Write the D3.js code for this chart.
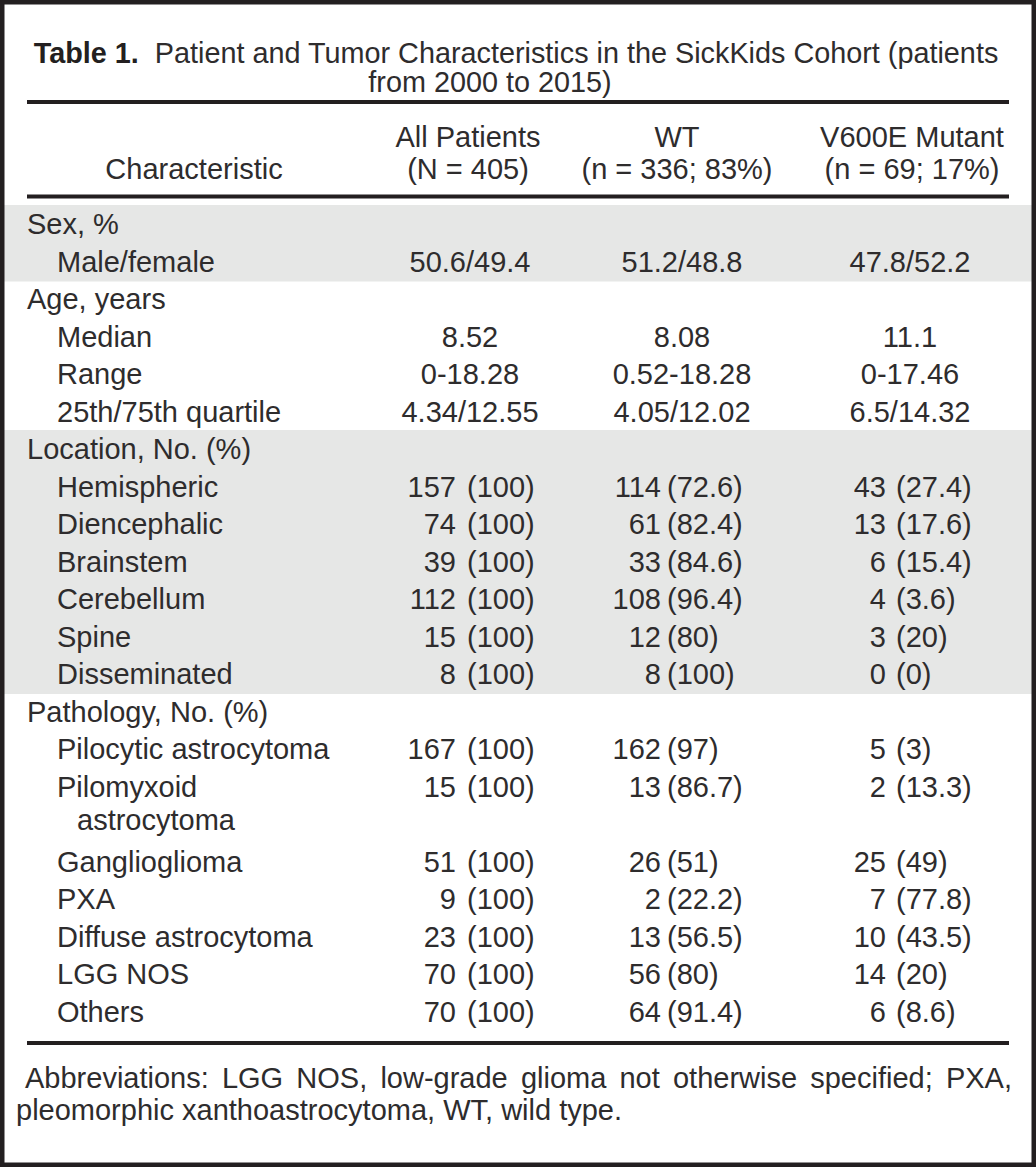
<!DOCTYPE html>
<html>
<head>
<meta charset="utf-8">
<script src="https://cdn.jsdelivr.net/npm/d3@7"></script>
<style>
body { margin: 0; background: #fff; }
svg text { font-family: "Liberation Sans", Arial, sans-serif; fill: #2e2c2d; }
</style>
</head>
<body>
<div id="chart"></div>
<script>
// table content
var titleBold = "Table 1.";
var titleLines = ["Patient and Tumor Characteristics in the SickKids Cohort (patients", "from 2000 to 2015)"];
var stubHeader = "Characteristic";
var columnNames = [["All Patients", "(N = 405)"], ["WT", "(n = 336; 83%)"], ["V600E Mutant", "(n = 69; 17%)"]];
var groups = ["Sex, %", "Age, years", "Location, No. (%)", "Pathology, No. (%)"];
var rowGroup = [0, 1, 1, 1, 2, 2, 2, 2, 2, 2, 3, 3, 3, 3, 3, 3, 3];
var rowLabels = [["Male/female"], ["Median"], ["Range"], ["25th/75th quartile"],
    ["Hemispheric"], ["Diencephalic"], ["Brainstem"], ["Cerebellum"], ["Spine"], ["Disseminated"],
    ["Pilocytic astrocytoma"], ["Pilomyxoid", "astrocytoma"], ["Ganglioglioma"], ["PXA"],
    ["Diffuse astrocytoma"], ["LGG NOS"], ["Others"]];
var allPatients = ["50.6/49.4", "8.52", "0-18.28", "4.34/12.55",
    "157 (100)", "74 (100)", "39 (100)", "112 (100)", "15 (100)", "8 (100)",
    "167 (100)", "15 (100)", "51 (100)", "9 (100)", "23 (100)", "70 (100)", "70 (100)"];
var wildType = ["51.2/48.8", "8.08", "0.52-18.28", "4.05/12.02",
    "114 (72.6)", "61 (82.4)", "33 (84.6)", "108 (96.4)", "12 (80)", "8 (100)",
    "162 (97)", "13 (86.7)", "26 (51)", "2 (22.2)", "13 (56.5)", "56 (80)", "64 (91.4)"];
var mutant = ["47.8/52.2", "11.1", "0-17.46", "6.5/14.32",
    "43 (27.4)", "13 (17.6)", "6 (15.4)", "4 (3.6)", "3 (20)", "0 (0)",
    "5 (3)", "2 (13.3)", "25 (49)", "7 (77.8)", "10 (43.5)", "14 (20)", "6 (8.6)"];
var footnoteLines = ["Abbreviations: LGG NOS, low-grade glioma not otherwise specified; PXA,",
    "pleomorphic xanthoastrocytoma, WT, wild type."];

var width = 1036;
var height = 1167;
var fontSize = 29;

var svg = d3.select('#chart')
    .append('svg')
    .attr('width', width)
    .attr('height', height);

svg.append('rect')
    .attr('width', width)
    .attr('height', height)
    .attr('fill', '#fff');

// one entry per printed line of the body
var bodyLines = [];
var rowStart = [];
groups.forEach(function (g, gi) {
    bodyLines.push({ kind: 'group', group: gi });
    rowGroup.forEach(function (rg, ri) {
        if (rg !== gi) return;
        rowStart[ri] = bodyLines.length;
        rowLabels[ri].forEach(function (t, k) {
            bodyLines.push({ kind: k === 0 ? 'row' : 'cont', group: gi, row: ri });
        });
    });
});

var y = d3.scaleLinear()
    .domain([0, 1])
    .range([234, 271.5]);

var columns = [allPatients, wildType, mutant];
var colCenter = [470, 682, 910];
var numEnd = [456, 661, 886];
var parenStart = [467, 667, 896];
var headCenter = [468, 677, 912];

// grey bands behind every other group
var bands = svg.append('g');
groups.forEach(function (g, gi) {
    if (gi % 2 !== 0) return;
    var idx = bodyLines.map(function (d, i) { return d.group === gi ? i : -1; })
        .filter(function (i) { return i >= 0; });
    var top = y(d3.min(idx)) - 29;
    var bottom = y(d3.max(idx)) + 10;
    bands.append('rect')
        .attr('x', 0)
        .attr('y', top)
        .attr('width', width)
        .attr('height', bottom - top)
        .attr('fill', '#e6e7e6');
});

// title
var title = svg.append('text')
    .attr('x', 516)
    .attr('y', 63)
    .attr('text-anchor', 'middle')
    .attr('font-size', 28.8);
title.append('tspan').attr('font-weight', 'bold').attr('fill', '#231f20').text(titleBold);
title.append('tspan').text('\u00a0 ' + titleLines[0]);

svg.append('text')
    .attr('x', 490)
    .attr('y', 92)
    .attr('text-anchor', 'middle')
    .attr('font-size', 28.8)
    .text(titleLines[1]);

// rules
var rules = [102, 196.5, 1043];
svg.append('g')
    .selectAll('line')
    .data(rules)
    .enter()
    .append('line')
    .attr('x1', 27)
    .attr('x2', 1009)
    .attr('y1', function (d) { return d; })
    .attr('y2', function (d) { return d; })
    .attr('stroke', '#231f20')
    .attr('stroke-width', 4);

// column header
svg.append('text')
    .attr('x', 194)
    .attr('y', 179)
    .attr('text-anchor', 'middle')
    .attr('font-size', fontSize)
    .text(stubHeader);

columnNames.forEach(function (c, ci) {
    svg.append('g')
        .selectAll('text')
        .data(c)
        .enter()
        .append('text')
        .attr('x', headCenter[ci])
        .attr('y', function (d, i) { return 147 + i * 32; })
        .attr('text-anchor', 'middle')
        .attr('font-size', fontSize)
        .text(function (d) { return d; });
});

// stub labels
svg.append('g')
    .selectAll('text')
    .data(bodyLines)
    .enter()
    .append('text')
    .attr('x', function (d) { return d.kind === 'group' ? 27 : (d.kind === 'row' ? 57 : 77); })
    .attr('y', function (d, i) { return d.kind === 'cont' ? y(i) - 4 : y(i); })
    .attr('font-size', fontSize)
    .text(function (d, i) {
        if (d.kind === 'group') return groups[d.group];
        var k = i - rowStart[d.row];
        return rowLabels[d.row][k];
    });

// values: counts lined up on the opening bracket, others centred
columns.forEach(function (col, ci) {
    var g = svg.append('g');
    col.forEach(function (v, ri) {
        var yy = y(rowStart[ri]);
        var p = v.indexOf(' (');
        if (p < 0) {
            g.append('text')
                .attr('x', colCenter[ci])
                .attr('y', yy)
                .attr('text-anchor', 'middle')
                .attr('font-size', fontSize)
                .text(v);
        } else {
            g.append('text')
                .attr('x', numEnd[ci])
                .attr('y', yy)
                .attr('text-anchor', 'end')
                .attr('font-size', fontSize)
                .text(v.slice(0, p));
            g.append('text')
                .attr('x', parenStart[ci])
                .attr('y', yy)
                .attr('font-size', fontSize)
                .text(v.slice(p + 1));
        }
    });
});

// footnote, first line justified
var words = footnoteLines[0].split(' ');
var foot = svg.append('g');
var wordNodes = foot.selectAll('text')
    .data(words)
    .enter()
    .append('text')
    .attr('y', 1088)
    .attr('font-size', fontSize)
    .text(function (d) { return d; });
var widths = [];
wordNodes.each(function () { widths.push(this.getComputedTextLength()); });
var x0 = 25, x1 = 1012;
var gap = (x1 - x0 - d3.sum(widths)) / (words.length - 1);
var cx = x0;
wordNodes.attr('x', function (d, i) {
    var xx = cx;
    cx += widths[i] + gap;
    return xx;
});

foot.append('text')
    .attr('x', 16)
    .attr('y', 1120)
    .attr('font-size', fontSize)
    .text(footnoteLines[1]);

// frame
svg.append('rect')
    .attr('x', 2)
    .attr('y', 2)
    .attr('width', width - 4)
    .attr('height', height - 4)
    .attr('fill', 'none')
    .attr('stroke', '#231f20')
    .attr('stroke-width', 5);
</script>
</body>
</html>
